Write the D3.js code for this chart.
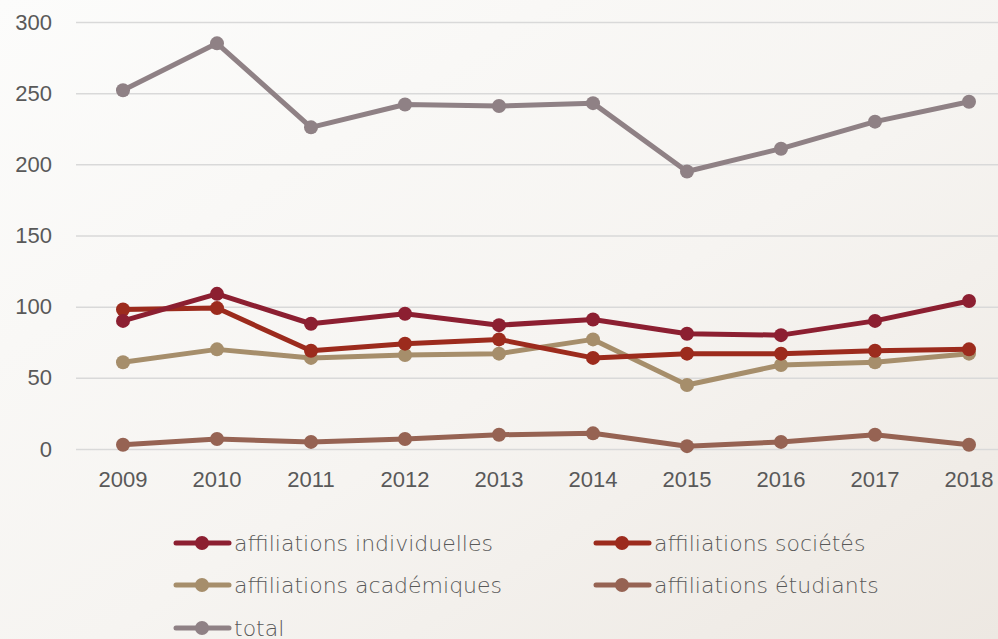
<!DOCTYPE html>
<html>
<head>
<meta charset="utf-8">
<script src="https://cdn.jsdelivr.net/npm/d3@7"></script>
<style>
  body { margin: 0; overflow: hidden; }
  svg { display: block; font-family: "DejaVu Sans", sans-serif; }
</style>
</head>
<body>
<div id="chart"></div>
<script>
// chart data
var years = ['2009','2010','2011','2012','2013','2014','2015','2016','2017','2018']
var individuelles = [90, 109, 88, 95, 87, 91, 81, 80, 90, 104]
var societes = [98, 99, 69, 74, 77, 64, 67, 67, 69, 70]
var academiques = [61, 70, 64, 66, 67, 77, 45, 59, 61, 67]
var etudiants = [3, 7, 5, 7, 10, 11, 2, 5, 10, 3]
var total = [252, 285, 226, 242, 241, 243, 195, 211, 230, 244]
var yTicks = [0, 50, 100, 150, 200, 250, 300]

var series = [
  {name: 'affiliations individuelles', values: individuelles, color: '#8c1f31'},
  {name: 'affiliations sociétés', values: societes, color: '#9c2b1d'},
  {name: 'affiliations académiques', values: academiques, color: '#a68e6b'},
  {name: 'affiliations étudiants', values: etudiants, color: '#966353'},
  {name: 'total', values: total, color: '#8f8185'}
]

var W = 998, H = 639
var svg = d3.select('#chart').append('svg')
  .attr('width', W).attr('height', H)

// background gradient
var defs = svg.append('defs')
var grad = defs.append('linearGradient').attr('id', 'bg')
  .attr('x1', '0%').attr('y1', '0%').attr('x2', '100%').attr('y2', '100%')
grad.append('stop').attr('offset', '0%').attr('stop-color', '#fcfcfb')
grad.append('stop').attr('offset', '55%').attr('stop-color', '#f6f4f1')
grad.append('stop').attr('offset', '100%').attr('stop-color', '#ede8e2')
svg.append('rect').attr('width', W).attr('height', H).attr('fill', 'url(#bg)')

var x = d3.scaleBand().domain(years).range([76, 1016])
var y = d3.scaleLinear().domain([0, 300]).range([449, 22])

// grid + y labels
var yAxis = svg.append('g')
  .attr('transform', 'translate(76,0)')
  .call(d3.axisLeft(y).tickValues(yTicks).tickSize(-940).tickPadding(24))
yAxis.select('.domain').remove()
yAxis.selectAll('line').attr('stroke', '#d9d9d9').attr('stroke-width', 1.5)
yAxis.selectAll('text').attr('fill', '#595959').attr('font-size', 22)
  .attr('font-weight', 300)

// x labels
var xAxis = svg.append('g')
  .attr('transform', 'translate(0,449)')
  .call(d3.axisBottom(x).tickSize(0).tickPadding(22))
xAxis.select('.domain').remove()
xAxis.selectAll('text').attr('fill', '#595959').attr('font-size', 22)
  .attr('font-weight', 300)

var line = d3.line()
  .x(function(d, i){ return x(years[i]) + x.bandwidth() / 2 })
  .y(function(d){ return y(d) })

// draw bottom to top so total sits last
var drawOrder = [4, 3, 2, 1, 0]
drawOrder.forEach(function(k){
  var s = series[k]
  var g = svg.append('g')
  g.append('path')
    .attr('d', line(s.values))
    .attr('fill', 'none')
    .attr('stroke', s.color)
    .attr('stroke-width', 5)
    .attr('stroke-linejoin', 'round')
  g.selectAll('circle').data(s.values).enter().append('circle')
    .attr('cx', function(d, i){ return x(years[i]) + x.bandwidth() / 2 })
    .attr('cy', function(d){ return y(d) })
    .attr('r', 7)
    .attr('fill', s.color)
})

// legend
var legPos = [[174, 543], [594, 543], [174, 585], [594, 585], [174, 628]]
series.forEach(function(s, i){
  var g = svg.append('g').attr('transform', 'translate(' + legPos[i][0] + ',' + legPos[i][1] + ')')
  g.append('line').attr('x1', 2).attr('x2', 55).attr('y1', 0).attr('y2', 0)
    .attr('stroke', s.color).attr('stroke-width', 5).attr('stroke-linecap', 'round')
  g.append('circle').attr('cx', 28).attr('cy', 0).attr('r', 7).attr('fill', s.color)
  g.append('text').attr('x', 60).attr('y', 8)
    .attr('fill', '#595959').attr('font-size', 22).attr('font-weight', 300)
    .text(s.name)
})
</script>
</body>
</html>
